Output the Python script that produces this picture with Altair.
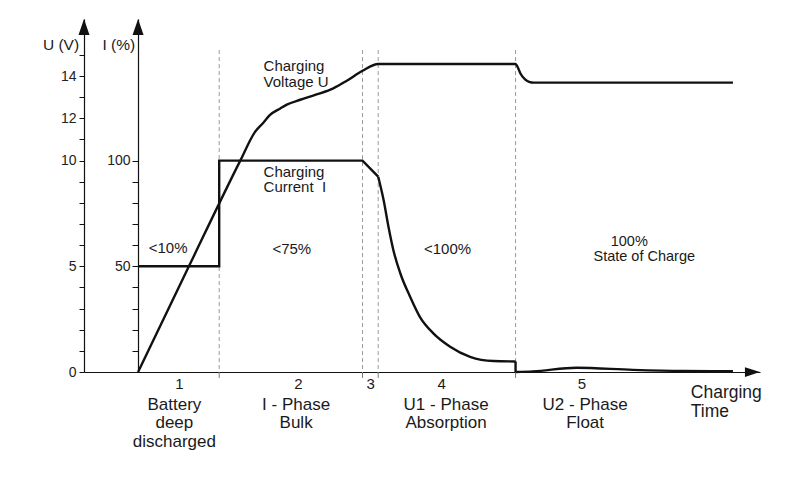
import altair as alt
import pandas as pd

FONT = "Liberation Sans"
INK = "#111111"

# ---- data (time in arbitrary units, voltage in V, current in %) ----
u_time = [0, 9.4, 18.9, 21.6, 23.2, 24.4, 26.3, 27.5, 30.0, 33.0, 36.1, 38.6, 41.5, 44.4,
          69.8, 70.2, 70.7, 71.5, 72.3, 73.2, 110.0]
u_volt = [0, 5.0, 10.0, 11.35, 11.8, 12.16, 12.47, 12.65, 12.88, 13.13, 13.42, 13.78, 14.25, 14.57,
          14.57, 14.42, 14.12, 13.86, 13.73, 13.69, 13.69]

i_step_time = [0, 15.0, 15.0, 41.5, 44.4]
i_step_pct = [50, 50, 100, 100, 92.4]
i_drop_time = [69.8, 69.8]
i_drop_pct = [5.0, 0]
i_decay_time = [44.4, 45.4, 46.3, 47.2, 48.5, 50.3, 52.1, 54.6, 57.7, 61.4, 65.7, 69.8]
i_decay_pct = [92.4, 81.4, 68.7, 57.7, 46.6, 35.6, 26.1, 18.3, 12.0, 7.2, 5.2, 5.0]
i_float_time = [69.8, 73.0, 81.1, 91.5, 100.8, 110.0]
i_float_pct = [0, 0.3, 2.0, 1.0, 0.5, 0.4]

phase_bounds = [15.0, 41.5, 44.4, 69.8]

u_ticks = list(range(16))
u_labels = [0, 5, 10, 12, 14]
i_ticks = list(range(0, 101, 10))
i_labels = [50, 100]

# annotations: (time, volt-level, text, font size)
center_notes = [
    (5.55, 5.87, "<10%", 15), (28.42, 5.82, "<75%", 15), (57.23, 5.82, "<100%", 15),
    (90.83, 6.17, "100%", 14.5), (93.6, 5.42, "State of Charge", 14.5),
    (7.64, -0.57, "1", 15), (29.64, -0.57, "2", 15), (43.03, -0.57, "3", 15),
    (56.16, -0.57, "4", 15), (82.05, -0.57, "5", 15),
    (6.71, -1.54, "Battery", 17), (6.71, -2.42, "deep", 17), (6.71, -3.30, "discharged", 17),
    (29.22, -1.54, "I - Phase", 17), (29.22, -2.42, "Bulk", 17),
    (56.95, -1.54, "U1 - Phase", 17), (56.95, -2.42, "Absorption", 17),
    (82.66, -1.54, "U2 - Phase", 17), (82.66, -2.42, "Float", 17),
]
left_notes = [
    (23.2, 14.47, "Charging", 15), (23.2, 13.72, "Voltage U", 15),
    (23.2, 9.46, "Charging", 15), (23.2, 8.73, "Current\u00a0\u00a0I", 15),
    (102.2, -0.99, "Charging", 17.5), (102.2, -1.90, "Time", 17.5),
]
right_notes = [(-10.9, 15.47, "U (V)", 15.5), (-0.55, 15.47, "I (%)", 15.5)]

# ---- tables ----
def notes_df(rows):
    return pd.DataFrame(rows, columns=["t", "v", "text", "fs"])

u_df = pd.DataFrame({"t": u_time, "v": u_volt})
i_lin_df = pd.concat([
    pd.DataFrame({"t": i_step_time, "i": i_step_pct, "seg": "step"}),
    pd.DataFrame({"t": i_drop_time, "i": i_drop_pct, "seg": "drop"}),
], ignore_index=True)
i_lin_df["ord"] = range(len(i_lin_df))
i_cur_df = pd.concat([
    pd.DataFrame({"t": i_decay_time, "i": i_decay_pct, "seg": "decay"}),
    pd.DataFrame({"t": i_float_time, "i": i_float_pct, "seg": "float"}),
], ignore_index=True)
i_cur_df["ord"] = range(len(i_cur_df))
bounds_df = pd.DataFrame({"t": phase_bounds, "v": 15.23, "base": 0.0, "below": -0.28})
uarrow_df = pd.DataFrame({"t": [-10.0, 0.0], "v": [16.32, 16.32]})
xarrow_df = pd.DataFrame({"t": [113.6], "v": [0.0]})

x_scale = alt.Scale(domain=[-10, 115], nice=False, zero=False)
u_scale = alt.Scale(domain=[0, 16.7], nice=False, zero=False)
i_scale = alt.Scale(domain=[0, 167], nice=False, zero=False)

u_axis = alt.Axis(
    orient="left", values=u_ticks,
    labelExpr="indexof(%s, datum.value) >= 0 ? datum.label : ''" % str(u_labels),
    tickSize=5, tickColor=INK, domainColor=INK, domainWidth=1.2, labelFontSize=14,
    labelColor="#222222", labelPadding=3, labelFont=FONT, title=None, grid=False,
    labelOverlap=False,
)
i_axis = alt.Axis(
    orient="left", offset=-54, values=i_ticks,
    labelExpr="indexof(%s, datum.value) >= 0 ? datum.label : ''" % str(i_labels),
    tickSize=6, tickColor=INK, domainColor=INK, domainWidth=1.2, labelFontSize=14,
    labelColor="#222222", labelPadding=2, labelFont=FONT, title=None, grid=False,
    labelOverlap=False,
)
x_axis = alt.Axis(ticks=False, labels=False, title=None, grid=False,
                  domainColor=INK, domainWidth=1.2)

X_ENC = alt.X("t:Q", scale=x_scale, axis=x_axis)
Y_U = alt.Y("v:Q", scale=u_scale, axis=u_axis)
Y_I = alt.Y("i:Q", scale=i_scale, axis=i_axis)

dashed = alt.Chart(bounds_df).mark_rule(color="#9a9a9a", strokeDash=[4, 3], strokeWidth=1).encode(
    x=X_ENC, y=Y_U, y2="base:Q")
below = alt.Chart(bounds_df).mark_rule(color="#777777", strokeWidth=1).encode(
    x=X_ENC, y=alt.Y("base:Q", scale=u_scale, axis=u_axis), y2="below:Q")

volt = alt.Chart(u_df).mark_line(color=INK, strokeWidth=2.4, interpolate="monotone").encode(
    x=X_ENC, y=Y_U)

up_arrow = alt.Chart(uarrow_df).mark_point(
    shape="M0,-1L0.69,1L-0.69,1Z", filled=True, size=256, color=INK, opacity=1, strokeWidth=0
).encode(x=X_ENC, y=Y_U)
right_arrow = alt.Chart(xarrow_df).mark_point(
    shape="M1,0L-1,0.65L-1,-0.65Z", filled=True, size=225, color=INK, opacity=1, strokeWidth=0
).encode(x=X_ENC, y=Y_U)

def text_layer(rows, align):
    return alt.Chart(notes_df(rows)).mark_text(
        align=align, baseline="middle", font=FONT, color="#1a1a1a"
    ).encode(x=X_ENC, y=Y_U, text="text:N", size=alt.Size("fs:Q", scale=None, legend=None))

u_group = alt.layer(
    dashed, below, volt, up_arrow, right_arrow,
    text_layer(center_notes, "center"), text_layer(left_notes, "left"),
    text_layer(right_notes, "right"),
)

cur_lin = alt.Chart(i_lin_df).mark_line(color=INK, strokeWidth=2.4, interpolate="linear").encode(
    x=X_ENC, y=Y_I, detail="seg:N", order="ord:Q")
cur_curve = alt.Chart(i_cur_df).mark_line(color=INK, strokeWidth=2.4, interpolate="monotone").encode(
    x=X_ENC, y=Y_I, detail="seg:N", order="ord:Q")
i_group = alt.layer(cur_lin, cur_curve)

chart = alt.layer(u_group, i_group).resolve_scale(y="independent").properties(
    width=676, height=353,
    autosize=alt.AutoSizeParams(type="none"),
    padding={"left": 76, "top": 11, "right": 20, "bottom": 95},
).configure_view(stroke="transparent").configure_axis(grid=False)

chart.save("out.html", embed_options={"renderer": "svg", "actions": False})
